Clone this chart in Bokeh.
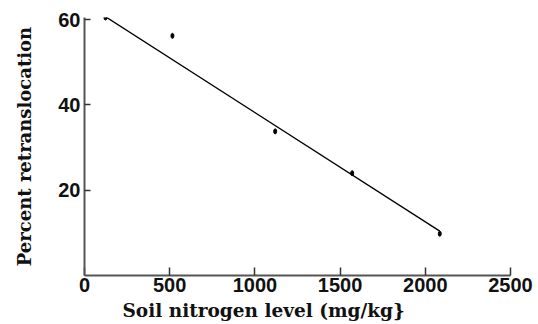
from bokeh.plotting import figure
from bokeh.models import Range1d, FixedTicker, Title
from bokeh.embed import file_html
from bokeh.resources import INLINE

# Data
nitrogen = [123, 516, 1119, 1571, 2085]
retrans = [60.5, 56.2, 33.8, 24.0, 9.8]
fit_x = [123, 2085]
fit_y = [60.7, 10.4]
x_ticks = [0, 500, 1000, 1500, 2000, 2500]
y_ticks = [20, 40, 60]
x_title = "Soil nitrogen level (mg/kg}"
y_title = "Percent retranslocation"

TITLE_FONT = "DejaVu Serif"
TICK_FONT = "Liberation Sans"

p = figure(width=538, height=324, output_backend="svg", toolbar_location=None,
           x_range=Range1d(0, 2500), y_range=Range1d(0, 60.5),
           min_border_left=84, min_border_right=28, min_border_top=17,
           min_border_bottom=48)
p.outline_line_color = None
p.xgrid.visible = False
p.ygrid.visible = False
p.background_fill_color = "white"
p.border_fill_color = "white"

p.line(fit_x, fit_y, line_color="black", line_width=1.3)
p.ellipse(nitrogen, retrans, width=3, height=5, width_units="screen",
          height_units="screen", fill_color="black", line_color="black")

for ax, ticks in ((p.xaxis[0], x_ticks), (p.yaxis[0], y_ticks)):
    ax.ticker = FixedTicker(ticks=ticks)
    ax.minor_tick_line_color = None
    ax.axis_line_color = "#555555"
    ax.axis_line_width = 2
    ax.major_tick_line_color = "#333333"
    ax.major_tick_line_width = 1.5
    ax.major_tick_out = 0
    ax.major_label_text_font = TICK_FONT
    ax.major_label_text_font_style = "bold"
    ax.major_label_text_font_size = "20px"
    ax.major_label_text_color = "#111111"
    ax.axis_label_text_font = TITLE_FONT
    ax.axis_label_text_font_style = "bold"
    ax.axis_label_text_font_size = "18px"
    ax.axis_label_text_color = "#111111"

p.xaxis.major_tick_in = 8
p.yaxis.major_tick_in = 6
p.xaxis.major_label_standoff = 2
p.yaxis.major_label_standoff = 4
p.yaxis.axis_label = y_title
p.yaxis.axis_label_standoff = 20

xt = Title(text=x_title, align="left", offset=38, standoff=7,
           text_font=TITLE_FONT, text_font_style="bold",
           text_font_size="18.5px", text_color="#111111")
p.add_layout(xt, "below")

open("out.html", "w").write(file_html(p, INLINE))
